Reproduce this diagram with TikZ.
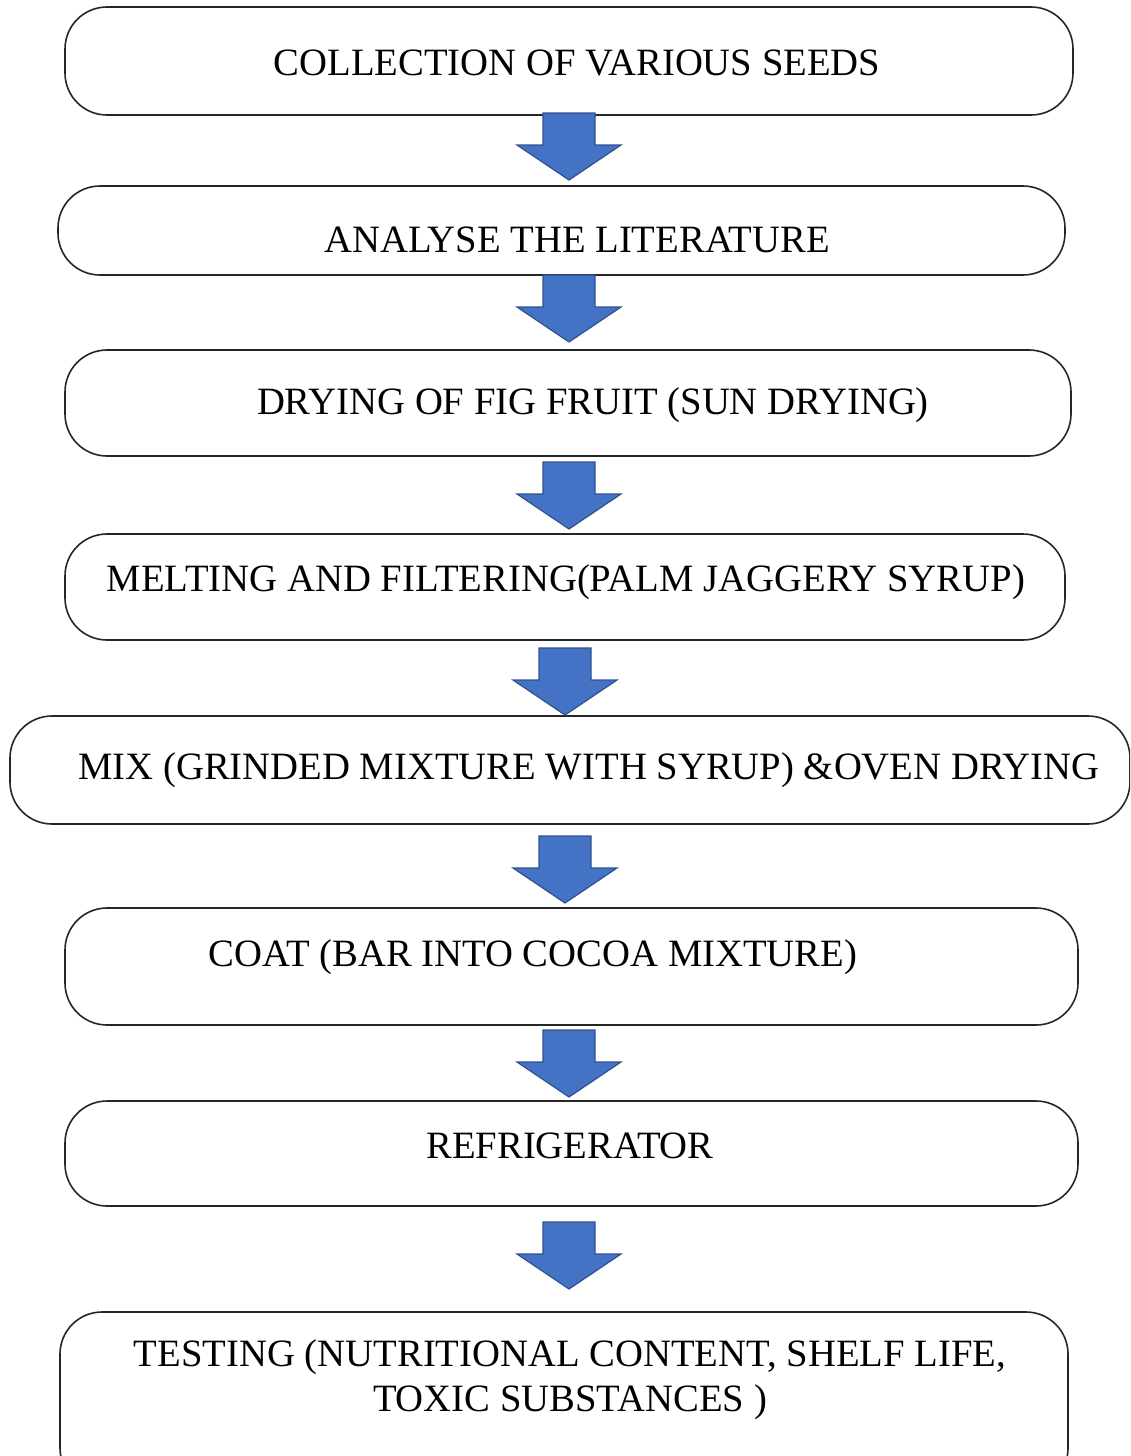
\documentclass[tikz,border=0pt]{standalone}
\usepackage{fontspec}
\setmainfont{Liberation Serif}
\begin{document}
\begin{tikzpicture}[x=1pt,y=-1pt,
  stepbox/.style={draw=black!85,line width=1.6pt,rounded corners=42pt},
  lbl/.style={font=\fontsize{38.7}{45}\selectfont,inner sep=0pt,align=center},
  blockarrow/.style={fill=arrowblue,line width=1.2pt,line join=miter}]
\definecolor{arrowblue}{HTML}{4472C4}
\definecolor{arrowedge}{RGB}{47,82,143}
\tikzset{blockarrow/.append style={draw=arrowedge}}
\useasboundingbox (0,0) rectangle (1130,1456);
\clip (0,0) rectangle (1130,1456);
% boxes
\draw[stepbox] (65,7) rectangle (1073,115);
\node[lbl] (t1) at (577,63) {COLLECTION OF VARIOUS SEEDS};
\draw[stepbox] (58,186) rectangle (1065,275);
\node[lbl] (t2) at (577,240) {ANALYSE THE LITERATURE};
\draw[stepbox] (65,350) rectangle (1071,456);
\node[lbl] (t3) at (593,405) {DRYING OF FIG FRUIT (SUN DRYING)};
\draw[stepbox] (65,534) rectangle (1065,640);
\node[lbl] (t4) at (566,582) {MELTING AND FILTERING(PALM JAGGERY SYRUP)};
\draw[stepbox] (10,716) rectangle (1130,824);
\node[lbl] (t5) at (589,770) {MIX (GRINDED MIXTURE WITH SYRUP) \&OVEN DRYING};
\draw[stepbox] (65,908) rectangle (1078,1025);
\node[lbl] (t6) at (533,957) {COAT (BAR INTO COCOA MIXTURE)};
\draw[stepbox] (65,1101) rectangle (1078,1206);
\node[lbl] (t7) at (570,1146) {REFRIGERATOR};
\draw[stepbox] (60,1312) rectangle (1068,1490);
\node[lbl] (t8) at (570,1380) {TESTING (NUTRITIONAL CONTENT, SHELF LIFE,\\TOXIC SUBSTANCES )};
% block arrows: pic at top centre
\tikzset{pics/downarrow/.style={code={
  \draw[blockarrow] (-26,0) -- (26,0) -- (26,32) -- (52,32) -- (0,67) -- (-52,32) -- (-26,32) -- cycle;}}}
\pic (a1) at (569,113) {downarrow};
\pic (a2) at (569,275) {downarrow};
\pic (a3) at (569,462) {downarrow};
\pic (a4) at (565,648) {downarrow};
\pic (a5) at (565,836) {downarrow};
\pic (a6) at (569,1030) {downarrow};
\pic (a7) at (569,1222) {downarrow};
\end{tikzpicture}
\end{document}
